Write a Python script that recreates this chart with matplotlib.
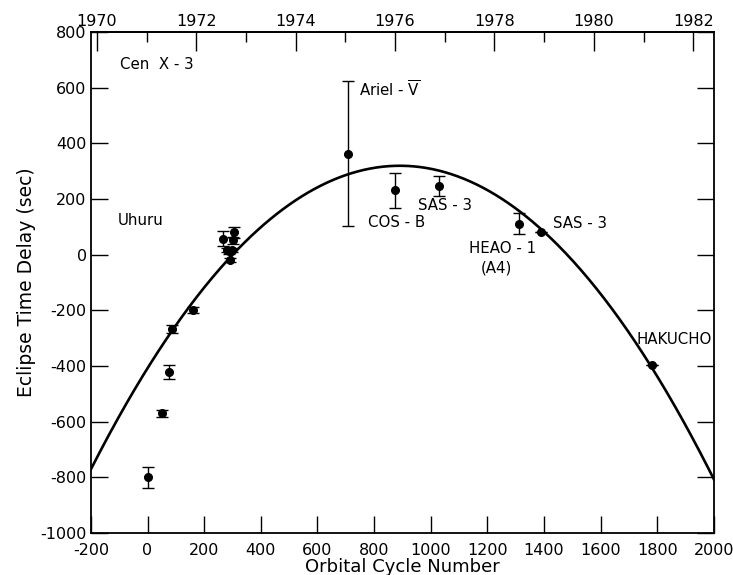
#!/usr/bin/env python3
"""Cen X-3 eclipse time delay vs orbital cycle number (O-C diagram)."""

import numpy as np
import matplotlib
matplotlib.use("Agg")
import matplotlib.pyplot as plt

# -----------------------------
# Data
# -----------------------------
cycles = [0, 50, 77, 86, 161, 267, 280, 289, 297, 291, 301, 304,
          707, 874, 1029, 1311, 1390, 1781]
delays = [-800, -570, -421, -267, -199, 58, 18, 12, 18, -18, 52, 81,
          363, 232, 248, 112, 82, -395]
errors = [38, 12, 25, 15, 12, 27, 8, 8, 8, 8, 12, 20,
          260, 63, 35, 37, 0, 0]

# quadratic ephemeris: delay = PEAK - CURV * (n - N0)^2
PEAK = 320.0
N0 = 891.0
CURV = 9.166e-4

# top axis: calendar year vs cycle number
YEAR0 = 1970
CYCLE_AT_YEAR0 = -179.0
CYCLES_PER_YEAR = 175.5

labels = [
    ("Cen  X - 3", -98, 684),
    ("Uhuru", -105, 122),
    ("Ariel - $\\overline{\\mathrm{V}}$", 745, 592),
    ("COS - B", 779, 115),
    ("SAS - 3", 955, 177),
    ("HEAO - 1", 1135, 22),
    ("(A4)", 1178, -48),
    ("SAS - 3", 1432, 112),
    ("HAKUCHO", 1728, -306),
]

plt.rcParams.update({
    "font.family": "DejaVu Sans",
    "font.size": 12,
    "axes.linewidth": 1.3,
    "axes.unicode_minus": False,
})

fig = plt.figure(figsize=(7.33, 5.75), dpi=100)
ax = fig.add_axes([0.124, 0.073, 0.850, 0.871])

n = np.linspace(-200, 2000, 400)
ax.plot(n, PEAK - CURV * (n - N0) ** 2, color="black", lw=1.9)

ax.errorbar(cycles, delays, yerr=errors, fmt="o", color="black", ms=5.5,
            elinewidth=1.0, capsize=4, capthick=1.0)

for txt, x, y in labels:
    ax.text(x, y, txt, fontsize=10.8, ha="left", va="center")

ax.set_xlim(-200, 2000)
ax.set_ylim(-1000, 800)
ax.set_xticks(np.arange(-200, 2001, 200))
ax.set_yticks(np.arange(-1000, 801, 200))
ax.tick_params(direction="in", length=12, width=1.0, right=True, top=False,
               labelsize=11.5)
ax.tick_params(axis="x", pad=7)
ax.tick_params(axis="y", pad=3)

ax.set_xlabel("Orbital Cycle Number", fontsize=13, labelpad=0)
ax.set_ylabel("Eclipse Time Delay (sec)", fontsize=13.5, labelpad=3)


def to_year(c):
    return YEAR0 + (c - CYCLE_AT_YEAR0) / CYCLES_PER_YEAR


def to_cycle(y):
    return CYCLE_AT_YEAR0 + (y - YEAR0) * CYCLES_PER_YEAR


top = ax.secondary_xaxis("top", functions=(to_year, to_cycle))
top.set_xticks(np.arange(1970, 1983, 2))
top.set_xticks(np.arange(1971, 1983, 2), minor=True)
top.tick_params(which="major", direction="in", length=14, width=1.0,
                labelsize=11.5, pad=2)
top.tick_params(which="minor", direction="in", length=7, width=1.0)

fig.savefig("out.png", dpi=100)
